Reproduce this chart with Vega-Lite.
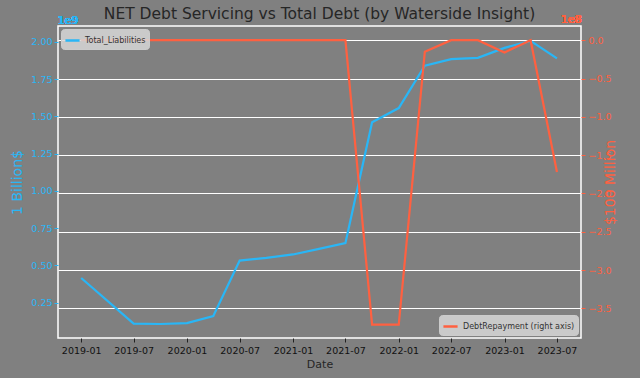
{
  "$schema": "https://vega.github.io/schema/vega-lite/v6.json",
  "width": 523,
  "height": 312,
  "autosize": {"type": "none"},
  "padding": {"left": 58, "top": 26, "right": 59, "bottom": 40},
  "background": "#808080",
  "config": {
    "font": "DejaVu Sans",
    "view": {"fill": "#808080", "stroke": "white", "strokeWidth": 1.5}
  },
  "title": {
    "text": "NET Debt Servicing vs Total Debt (by Waterside Insight)",
    "fontSize": 15.5,
    "fontWeight": "normal",
    "color": "#262626",
    "anchor": "middle",
    "frame": "group",
    "offset": 4,
    "dy": 12,
    "font": "DejaVu Sans"
  },
  "data": {
    "values": [
      {"date": "2019-01-01", "Total_Liabilities": 415000000, "DebtRepayment": 0},
      {"date": "2019-07-01", "Total_Liabilities": 108000000, "DebtRepayment": 0},
      {"date": "2019-10-01", "Total_Liabilities": 106000000, "DebtRepayment": 0},
      {"date": "2020-01-01", "Total_Liabilities": 112000000, "DebtRepayment": 0},
      {"date": "2020-04-01", "Total_Liabilities": 160000000, "DebtRepayment": 0},
      {"date": "2020-07-01", "Total_Liabilities": 532000000, "DebtRepayment": 0},
      {"date": "2020-10-01", "Total_Liabilities": 550000000, "DebtRepayment": 0},
      {"date": "2021-01-01", "Total_Liabilities": 573000000, "DebtRepayment": 0},
      {"date": "2021-04-01", "Total_Liabilities": 610000000, "DebtRepayment": 0},
      {"date": "2021-07-01", "Total_Liabilities": 650000000, "DebtRepayment": 0},
      {"date": "2021-10-01", "Total_Liabilities": 1460000000, "DebtRepayment": -371000000},
      {"date": "2022-01-01", "Total_Liabilities": 1556000000, "DebtRepayment": -371000000},
      {"date": "2022-04-01", "Total_Liabilities": 1840000000, "DebtRepayment": -15000000},
      {"date": "2022-07-01", "Total_Liabilities": 1885000000, "DebtRepayment": 0},
      {"date": "2022-10-01", "Total_Liabilities": 1893000000, "DebtRepayment": 0},
      {"date": "2023-01-01", "Total_Liabilities": 1960000000, "DebtRepayment": -16000000},
      {"date": "2023-04-01", "Total_Liabilities": 2007000000, "DebtRepayment": 0},
      {"date": "2023-07-01", "Total_Liabilities": 1890000000, "DebtRepayment": -172000000}
    ]
  },
  "encoding": {
    "x": {
      "field": "date",
      "type": "temporal",
      "scale": {"type": "utc", "domain": [{"year": 2018, "month": 10, "date": 13, "utc": true}, {"year": 2023, "month": 9, "date": 22, "utc": true}]},
      "axis": {
        "title": "Date",
        "titleFont": "DejaVu Sans",
        "titleFontSize": 11,
        "titleFontWeight": "normal",
        "titleColor": "#262626",
        "titlePadding": 4,
        "labelExpr": "utcFormat(datum.value, '%Y-%m')",
        "values": [
          {"year": 2019, "month": 1, "date": 1, "utc": true},
          {"year": 2019, "month": 7, "date": 1, "utc": true},
          {"year": 2020, "month": 1, "date": 1, "utc": true},
          {"year": 2020, "month": 7, "date": 1, "utc": true},
          {"year": 2021, "month": 1, "date": 1, "utc": true},
          {"year": 2021, "month": 7, "date": 1, "utc": true},
          {"year": 2022, "month": 1, "date": 1, "utc": true},
          {"year": 2022, "month": 7, "date": 1, "utc": true},
          {"year": 2023, "month": 1, "date": 1, "utc": true},
          {"year": 2023, "month": 7, "date": 1, "utc": true}
        ],
        "labelFont": "DejaVu Sans",
        "labelFontSize": 9.5,
        "labelColor": "#111111",
        "labelPadding": 3,
        "labelFlush": false,
        "labelOverlap": false,
        "tickColor": "#222222",
        "tickSize": 4,
        "domain": false,
        "grid": false
      }
    }
  },
  "layer": [
    {
      "layer": [
        {
          "mark": {"type": "line", "strokeWidth": 2.2, "color": "#29b6f6"},
          "encoding": {
            "y": {
              "field": "Total_Liabilities",
              "type": "quantitative",
              "scale": {"domain": [12000000, 2107000000], "zero": false, "nice": false},
              "axis": {
                "orient": "left",
                "title": "1 Billion$",
                "titleFont": "DejaVu Sans",
                "titleFontSize": 14,
                "titleFontWeight": "normal",
                "titleColor": "#29b6f6",
                "titlePadding": 6,
                "values": [250000000, 500000000, 750000000, 1000000000, 1250000000, 1500000000, 1750000000, 2000000000],
                "labelExpr": "format(datum.value / 1e9, '.2f')",
                "labelFont": "DejaVu Sans",
                "labelFontSize": 9.5,
                "labelColor": "#29b6f6",
                "labelPadding": 2,
                "labelFlush": false,
                "tickColor": "#29b6f6",
                "tickSize": 4,
                "domain": false,
                "grid": false
              }
            },
            "color": {
              "datum": "Total_Liabilities",
              "type": "nominal",
              "scale": {"range": ["#29b6f6"]},
              "legend": {
                "title": null,
                "orient": "top-left",
                "offset": 3,
                "padding": 3,
                "fillColor": "rgba(215,215,215,0.85)",
                "strokeColor": "#cccccc",
                "cornerRadius": 3,
                "symbolType": "stroke",
                "symbolStrokeWidth": 2.5,
                "symbolSize": 200,
                "labelFont": "DejaVu Sans",
                "labelFontSize": 8,
                "labelColor": "#333333"
              }
            }
          }
        },
        {
          "mark": {"type": "text", "fontSize": 11, "fontWeight": "normal", "color": "#29b6f6", "align": "center", "baseline": "bottom"},
          "encoding": {
            "x": {"datum": {"year": 2018, "month": 11, "date": 16, "utc": true}, "type": "temporal"},
            "y": {"datum": 2110000000, "type": "quantitative"},
            "text": {"value": "1e9"}
          }
        }
      ]
    },
    {
      "layer": [
        {
          "mark": {"type": "line", "strokeWidth": 2.2, "color": "#ff6040"},
          "encoding": {
            "y": {
              "field": "DebtRepayment",
              "type": "quantitative",
              "scale": {"domain": [-388500000, 18500000], "zero": false, "nice": false},
              "axis": {
                "orient": "right",
                "title": "$100 Million",
                "titleAngle": 270,
                "titleFont": "DejaVu Sans",
                "titleFontSize": 14,
                "titleFontWeight": "normal",
                "titleColor": "#ff6040",
                "titlePadding": 6,
                "values": [-350000000, -300000000, -250000000, -200000000, -150000000, -100000000, -50000000, 0],
                "labelExpr": "format(datum.value / 1e8, '.1f')",
                "labelFont": "DejaVu Sans",
                "labelFontSize": 9.5,
                "labelColor": "#ff6040",
                "labelPadding": 3,
                "labelFlush": false,
                "tickColor": "#ff6040",
                "tickSize": 4,
                "domain": false,
                "grid": true,
                "gridColor": "#ffffff",
                "gridWidth": 1.2
              }
            },
            "color": {
              "datum": "DebtRepayment (right axis)",
              "type": "nominal",
              "scale": {"range": ["#ff6040"]},
              "legend": {
                "title": null,
                "orient": "bottom-right",
                "offset": 3,
                "padding": 3,
                "fillColor": "rgba(215,215,215,0.85)",
                "strokeColor": "#cccccc",
                "cornerRadius": 3,
                "symbolType": "stroke",
                "symbolStrokeWidth": 2.5,
                "symbolSize": 200,
                "labelFont": "DejaVu Sans",
                "labelFontSize": 8,
                "labelColor": "#333333"
              }
            }
          }
        },
        {
          "mark": {"type": "text", "fontSize": 11, "fontWeight": "normal", "color": "#ff6040", "align": "center", "baseline": "bottom"},
          "encoding": {
            "x": {"datum": {"year": 2023, "month": 8, "date": 20, "utc": true}, "type": "temporal"},
            "y": {"datum": 19500000, "type": "quantitative"},
            "text": {"value": "1e8"}
          }
        }
      ]
    }
  ],
  "resolve": {"scale": {"y": "independent", "color": "independent"}}
}
